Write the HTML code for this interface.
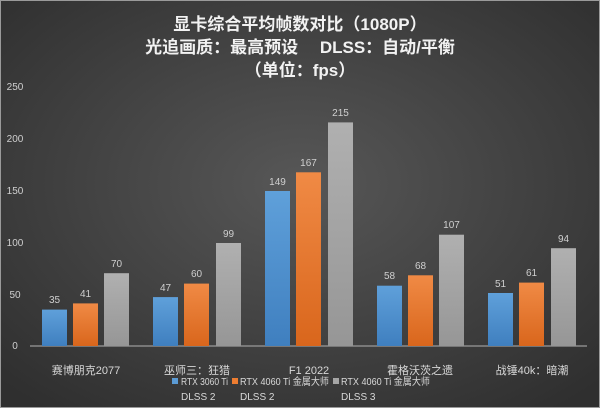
<!DOCTYPE html>
<html><head><meta charset="utf-8"><style>
body{margin:0}
svg{display:block}
text{font-family:"Liberation Sans","Noto Sans CJK SC",sans-serif}
</style></head><body>
<svg width="600" height="408" viewBox="0 0 600 408" xmlns="http://www.w3.org/2000/svg">
<defs>
<radialGradient id="bg" cx="50%" cy="45%" r="70%">
<stop offset="0" stop-color="#575757"/><stop offset="1" stop-color="#2f2f2f"/>
</radialGradient>
<linearGradient id="b" x1="0" x2="0" y1="0" y2="1"><stop offset="0" stop-color="#5fa0da"/><stop offset="1" stop-color="#3f7fbf"/></linearGradient>
<linearGradient id="o" x1="0" x2="0" y1="0" y2="1"><stop offset="0" stop-color="#f08a45"/><stop offset="1" stop-color="#d9661c"/></linearGradient>
<linearGradient id="g" x1="0" x2="0" y1="0" y2="1"><stop offset="0" stop-color="#b0b0b0"/><stop offset="1" stop-color="#969696"/></linearGradient>
</defs>
<rect x="0" y="0" width="600" height="408" fill="#9a9a9a"/>
<rect x="1" y="1" width="598" height="406" fill="url(#bg)"/>
<g fill="#f2f2f2" font-size="17" text-anchor="middle" font-weight="bold">
<text x="300" y="30">显卡综合平均帧数对比（1080P）</text>
<text x="300" y="53">光追画质：最高预设　 DLSS：自动/平衡</text>
<text x="300" y="76">（单位：fps）</text>
</g>
<g fill="#cfcfcf" font-size="10" text-anchor="middle">
<text x="15" y="90">250</text><text x="15" y="142">200</text><text x="15" y="194">150</text>
<text x="15" y="246">100</text><text x="15" y="298">50</text><text x="15" y="349">0</text>
</g>
<line x1="30" y1="346" x2="587" y2="346" stroke="#9a9a9a" stroke-width="1.2"/>
<g>
<rect x="42" y="309.6" width="25" height="36.4" fill="url(#b)"/>
<rect x="73" y="303.4" width="25" height="42.6" fill="url(#o)"/>
<rect x="104" y="273.2" width="25" height="72.8" fill="url(#g)"/>
<rect x="153" y="297.1" width="25" height="48.9" fill="url(#b)"/>
<rect x="184" y="283.6" width="25" height="62.4" fill="url(#o)"/>
<rect x="216" y="243" width="25" height="103" fill="url(#g)"/>
<rect x="265" y="191" width="25" height="155" fill="url(#b)"/>
<rect x="296" y="172.3" width="25" height="173.7" fill="url(#o)"/>
<rect x="328" y="122.4" width="25" height="223.6" fill="url(#g)"/>
<rect x="377" y="285.7" width="25" height="60.3" fill="url(#b)"/>
<rect x="408" y="275.3" width="25" height="70.7" fill="url(#o)"/>
<rect x="439" y="234.7" width="25" height="111.3" fill="url(#g)"/>
<rect x="488" y="293" width="25" height="53" fill="url(#b)"/>
<rect x="519" y="282.6" width="25" height="63.4" fill="url(#o)"/>
<rect x="551" y="248.2" width="25" height="97.8" fill="url(#g)"/>
</g>
<g fill="#cfcfcf" font-size="10" text-anchor="middle">
<text x="54.5" y="303">35</text><text x="85.5" y="297">41</text><text x="116.5" y="267">70</text>
<text x="165.5" y="291">47</text><text x="196.5" y="277">60</text><text x="228.5" y="237">99</text>
<text x="277.5" y="185">149</text><text x="308.5" y="166">167</text><text x="340.5" y="116">215</text>
<text x="389.5" y="279">58</text><text x="420.5" y="269">68</text><text x="451.5" y="228">107</text>
<text x="500.5" y="287">51</text><text x="531.5" y="276">61</text><text x="563.5" y="242">94</text>
</g>
<g fill="#d8d8d8" font-size="11" text-anchor="middle">
<text x="86" y="374">赛博朋克2077</text>
<text x="197" y="374">巫师三：狂猎</text>
<text x="309" y="374">F1 2022</text>
<text x="420" y="374">霍格沃茨之遗</text>
<text x="532" y="374">战锤40k：暗潮</text>
</g>
<g fill="#d8d8d8" font-size="10">
<rect x="172" y="378" width="6" height="6" fill="#5b9bd5"/>
<text x="181" y="385" textLength="47" lengthAdjust="spacingAndGlyphs">RTX 3060 Ti</text><text x="181" y="400">DLSS 2</text>
<rect x="232" y="378" width="6" height="6" fill="#ed7d31"/>
<text x="240" y="385" textLength="89" lengthAdjust="spacingAndGlyphs">RTX 4060 Ti 金属大师</text><text x="240" y="400">DLSS 2</text>
<rect x="333" y="378" width="6" height="6" fill="#a5a5a5"/>
<text x="341" y="385" textLength="89" lengthAdjust="spacingAndGlyphs">RTX 4060 Ti 金属大师</text><text x="341" y="400">DLSS 3</text>
</g>
</svg>
</body></html>
